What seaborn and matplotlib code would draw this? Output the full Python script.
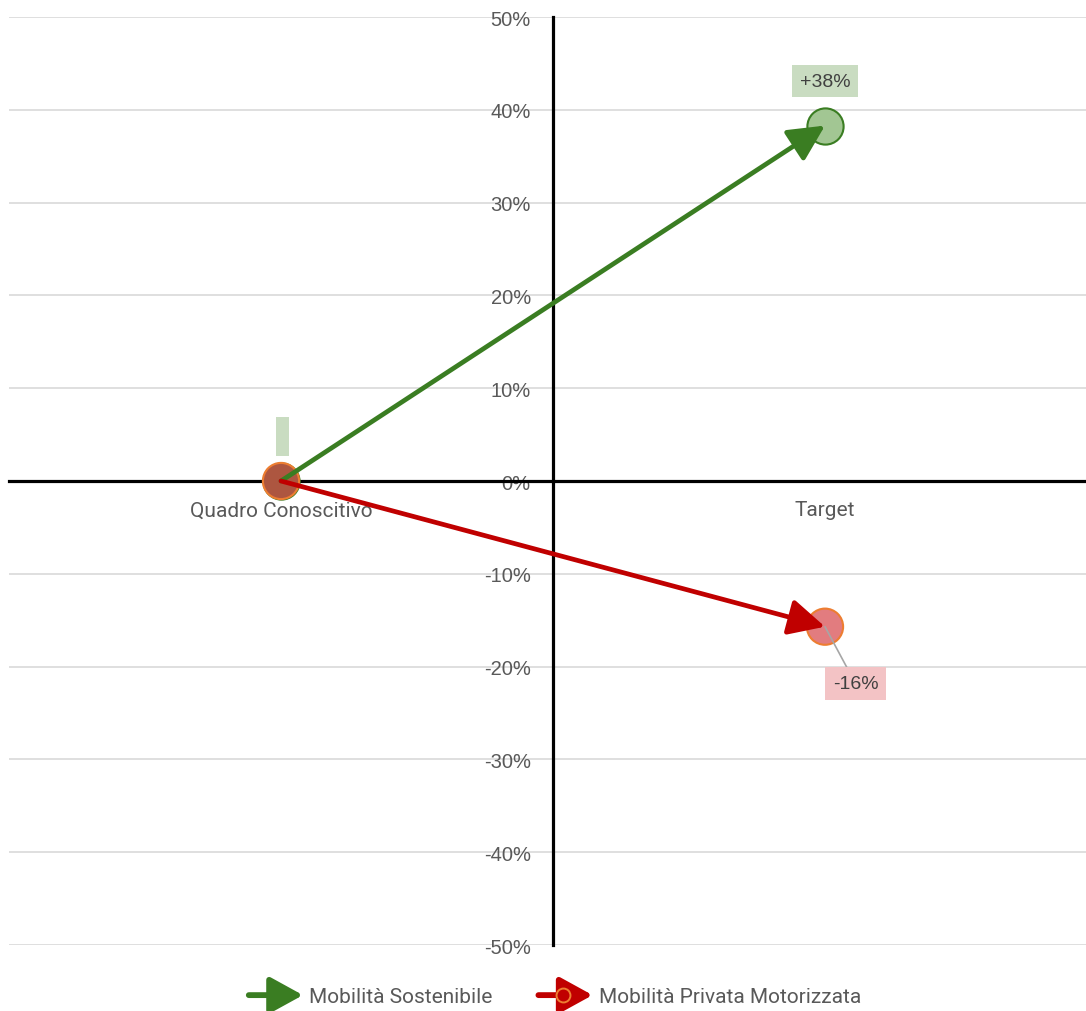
import matplotlib
matplotlib.use("Agg")
import matplotlib.pyplot as plt
import seaborn as sns
import pandas as pd
from matplotlib.lines import Line2D
from matplotlib.patches import FancyArrowPatch
from matplotlib.legend_handler import HandlerBase

# data
categories = ["Quadro Conoscitivo", "Target"]
sostenibile = [0.0, 38.3]
privata = [0.0, -15.7]
series_names = ["Mobilità Sostenibile", "Mobilità Privata Motorizzata"]
end_labels = ["+38%", "-16%"]
y_ticks = [-50, -40, -30, -20, -10, 0, 10, 20, 30, 40, 50]
y_tick_labels = [f"{t}%" for t in y_ticks]

green = "#3a7d22"
red = "#c00000"
orange = "#ed7d31"

sns.set_theme(style="white")
plt.rcParams["font.family"] = ["Roboto", "DejaVu Sans"]

df = pd.DataFrame({
    "x": [0, 1, 0, 1],
    "y": sostenibile + privata,
    "serie": [series_names[0]] * 2 + [series_names[1]] * 2,
})

fig = plt.figure(figsize=(10.86, 10.12), dpi=100)
ax = fig.add_axes([9 / 1086, 66 / 1012, 1088 / 1086, 928 / 1012])

# markers (drawn under the arrows)
green_pts = df[df["serie"] == series_names[0]]
red_pts = df[df["serie"] == series_names[1]]
sns.scatterplot(data=green_pts, x="x", y="y", s=680, color="#a2c693",
                edgecolor=green, linewidth=1.5, ax=ax, zorder=3, legend=False)
ax.scatter(red_pts["x"], red_pts["y"], s=680, c=["#ad5640", "#e27c7f"],
           edgecolors=orange, linewidths=1.5, zorder=4)

# arrows from start to target
arrow_style = "-|>,head_length=1.1,head_width=0.55"
for vals, col in [(sostenibile, green), (privata, red)]:
    ax.annotate("", xy=(1, vals[1]), xytext=(0, vals[0]),
                arrowprops=dict(arrowstyle=arrow_style, color=col, lw=3.4,
                                shrinkA=0, shrinkB=0, mutation_scale=20),
                zorder=5)

# data labels
ax.annotate(end_labels[0], xy=(1, sostenibile[1]), xytext=(0, 32),
            textcoords="offset points", ha="center", va="center",
            family="Liberation Sans", fontsize=14, color="#404040", zorder=6,
            bbox=dict(boxstyle="square,pad=0.4", fc="#c9dcc1", ec="none"))
ax.annotate(end_labels[1], xy=(1, privata[1]), xytext=(22, -41),
            textcoords="offset points", ha="center", va="center",
            family="Liberation Sans", fontsize=14, color="#404040", zorder=6,
            bbox=dict(boxstyle="square,pad=0.4", fc="#f3c3c5", ec="none"),
            arrowprops=dict(arrowstyle="-", color="#a6a6a6", lw=1.2,
                            shrinkA=0, shrinkB=0))
ax.annotate(" \n ", xy=(0, sostenibile[0]), xytext=(1, 32),
            textcoords="offset points", ha="center", va="center",
            fontsize=12, linespacing=1.0, zorder=6,
            bbox=dict(boxstyle="square,pad=0.25", fc="#c9dcc1", ec="none"))

# axes crossing in the middle
ax.set_xlim(-0.5, 1.5)
ax.set_ylim(-50, 50)
ax.spines["left"].set_position(("data", 0.5))
ax.spines["bottom"].set_position(("data", 0))
for s in ["top", "right"]:
    ax.spines[s].set_visible(False)
for s in ["left", "bottom"]:
    ax.spines[s].set_color("black")
    ax.spines[s].set_linewidth(2.3)
    ax.spines[s].set_zorder(2)

ax.set_yticks(y_ticks)
ax.set_yticklabels(y_tick_labels, fontfamily="Liberation Sans", fontsize=14.5)
ax.set_xticks([0, 1])
ax.set_xticklabels(categories, fontsize=15)
ax.tick_params(axis="y", length=0, pad=16, labelcolor="#595959")
ax.tick_params(axis="x", length=0, pad=14, labelcolor="#595959")
ax.grid(axis="y", color="#d9d9d9", lw=1.2)
ax.set_axisbelow(True)
ax.set_xlabel("")
ax.set_ylabel("")


# legend with arrow handles
class ArrowHandler(HandlerBase):
    def create_artists(self, legend, orig_handle, xdescent, ydescent,
                       width, height, fontsize, trans):
        y = height / 2 - ydescent
        col = orig_handle.get_color()
        arts = [FancyArrowPatch((-xdescent, y), (width - xdescent, y),
                                arrowstyle="-|>,head_length=1.0,head_width=0.55",
                                mutation_scale=20, color=col, lw=4.2,
                                capstyle="round",
                                shrinkA=0, shrinkB=0, transform=trans)]
        if orig_handle.get_marker() not in (None, "None", ""):
            arts.append(Line2D([width * 0.45 - xdescent], [y], marker="o",
                               markersize=10, mfc="none", mec=orange, mew=1.4,
                               transform=trans))
        return arts


h1 = Line2D([], [], color=green)
h2 = Line2D([], [], color=red, marker="o")
fig.legend([h1, h2], series_names, loc="lower center",
           bbox_to_anchor=(0.511, -0.014), ncol=2, frameon=False,
           handler_map={Line2D: ArrowHandler()},
           prop={"family": "Roboto", "size": 15}, labelcolor="#595959",
           handlelength=2.6, handletextpad=0.3, columnspacing=2.2)

fig.savefig("out.png", dpi=100)
